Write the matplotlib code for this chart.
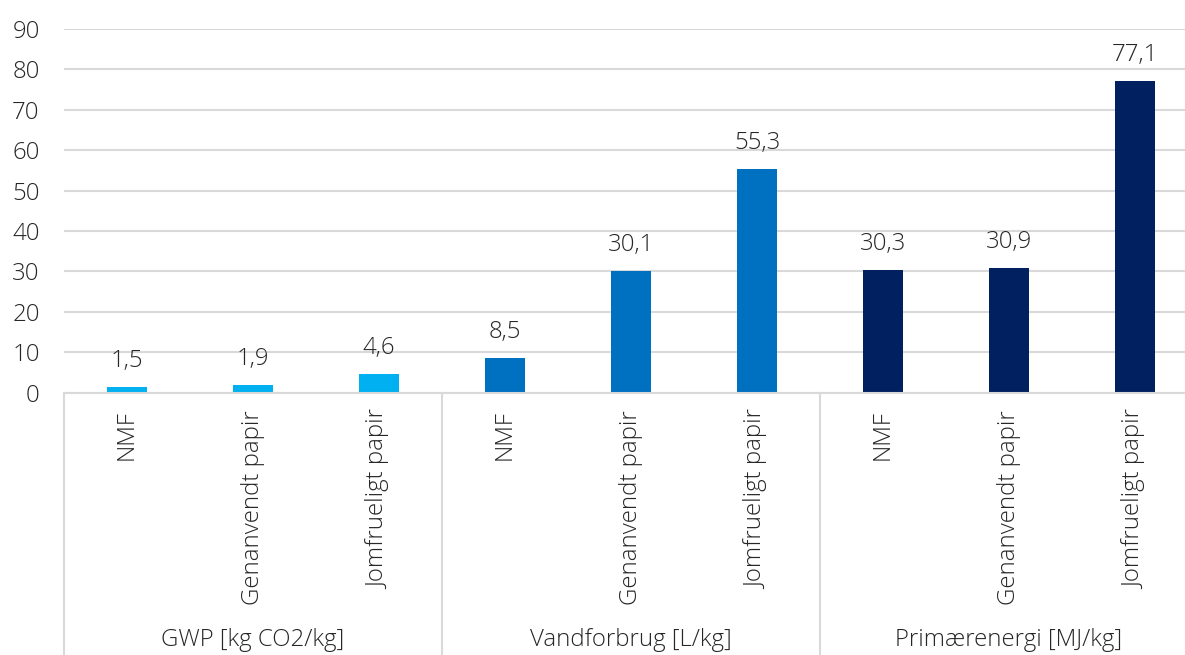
import matplotlib
matplotlib.use("Agg")
import matplotlib.pyplot as plt
from matplotlib.transforms import blended_transform_factory

plt.rcParams['font.family'] = ['Open Sans', 'DejaVu Sans']

groups = ["GWP [kg CO2/kg]", "Vandforbrug [L/kg]", "Primærenergi [MJ/kg]"]
categories = ["NMF", "Genanvendt papir", "Jomfrueligt papir"]
gwp = [1.5, 1.9, 4.6]
vand = [8.5, 30.1, 55.3]
primaer = [30.3, 30.9, 77.1]
series = [gwp, vand, primaer]
colors = ["#00B0F0", "#0070C0", "#002060"]
yticks = [0, 10, 20, 30, 40, 50, 60, 70, 80, 90]

W, H = 1185, 655
fig = plt.figure(figsize=(W / 100, H / 100), dpi=100)
left, right_px, top, bottom = 64, 1198, 29, 392.7
ax = fig.add_axes([left / W, 1 - bottom / H, (right_px - left) / W, (bottom - top) / H])

txt = "#262626"
grid = "#D9D9D9"
fw = 300
fs = 17.3

x = 0
for gi, vals in enumerate(series):
    for ci, v in enumerate(vals):
        ax.bar(x, v, width=0.32, color=colors[gi], zorder=3)
        ax.annotate(f"{v:.1f}".replace(".", ","), (x, v), xytext=(0, 10),
                    textcoords="offset points", ha="center", va="bottom",
                    fontsize=fs, color=txt, fontweight=fw)
        ax.text(x, -0.047, categories[ci], transform=blended_transform_factory(ax.transData, ax.transAxes),
                rotation=90, ha="center", va="top", fontsize=fs, color=txt, fontweight=fw)
        x += 1

ax.set_xlim(-0.5, 8.5)
ax.set_ylim(0, 90)
ax.set_yticks(yticks)
ax.set_yticklabels([str(t) for t in yticks], fontsize=fs, color=txt, fontweight=fw)
ax.set_xticks([])
ax.tick_params(axis="y", length=0, pad=17.5)
for s in ax.spines.values():
    s.set_visible(False)
ax.yaxis.grid(True, color=grid, linewidth=1.5, zorder=0)
ax.set_axisbelow(True)

tr = blended_transform_factory(ax.transData, ax.transAxes)
ybot = -(H - bottom) / (bottom - top)
for gx in [-0.5, 2.5, 5.5, 8.5]:
    ax.plot([gx, gx], [0, ybot], transform=tr, color=grid, linewidth=1.5, clip_on=False)
ax.plot([-0.5, 8.5], [0, 0], transform=tr, color=grid, linewidth=1.5, clip_on=False, zorder=4)

ylab = -(640 - bottom) / (bottom - top)
for gi, g in enumerate(groups):
    ax.text(gi * 3 + 1, ylab, g, transform=tr, ha="center", va="center",
            fontsize=fs, color=txt, fontweight=fw)

fig.savefig("out.png", dpi=100)
